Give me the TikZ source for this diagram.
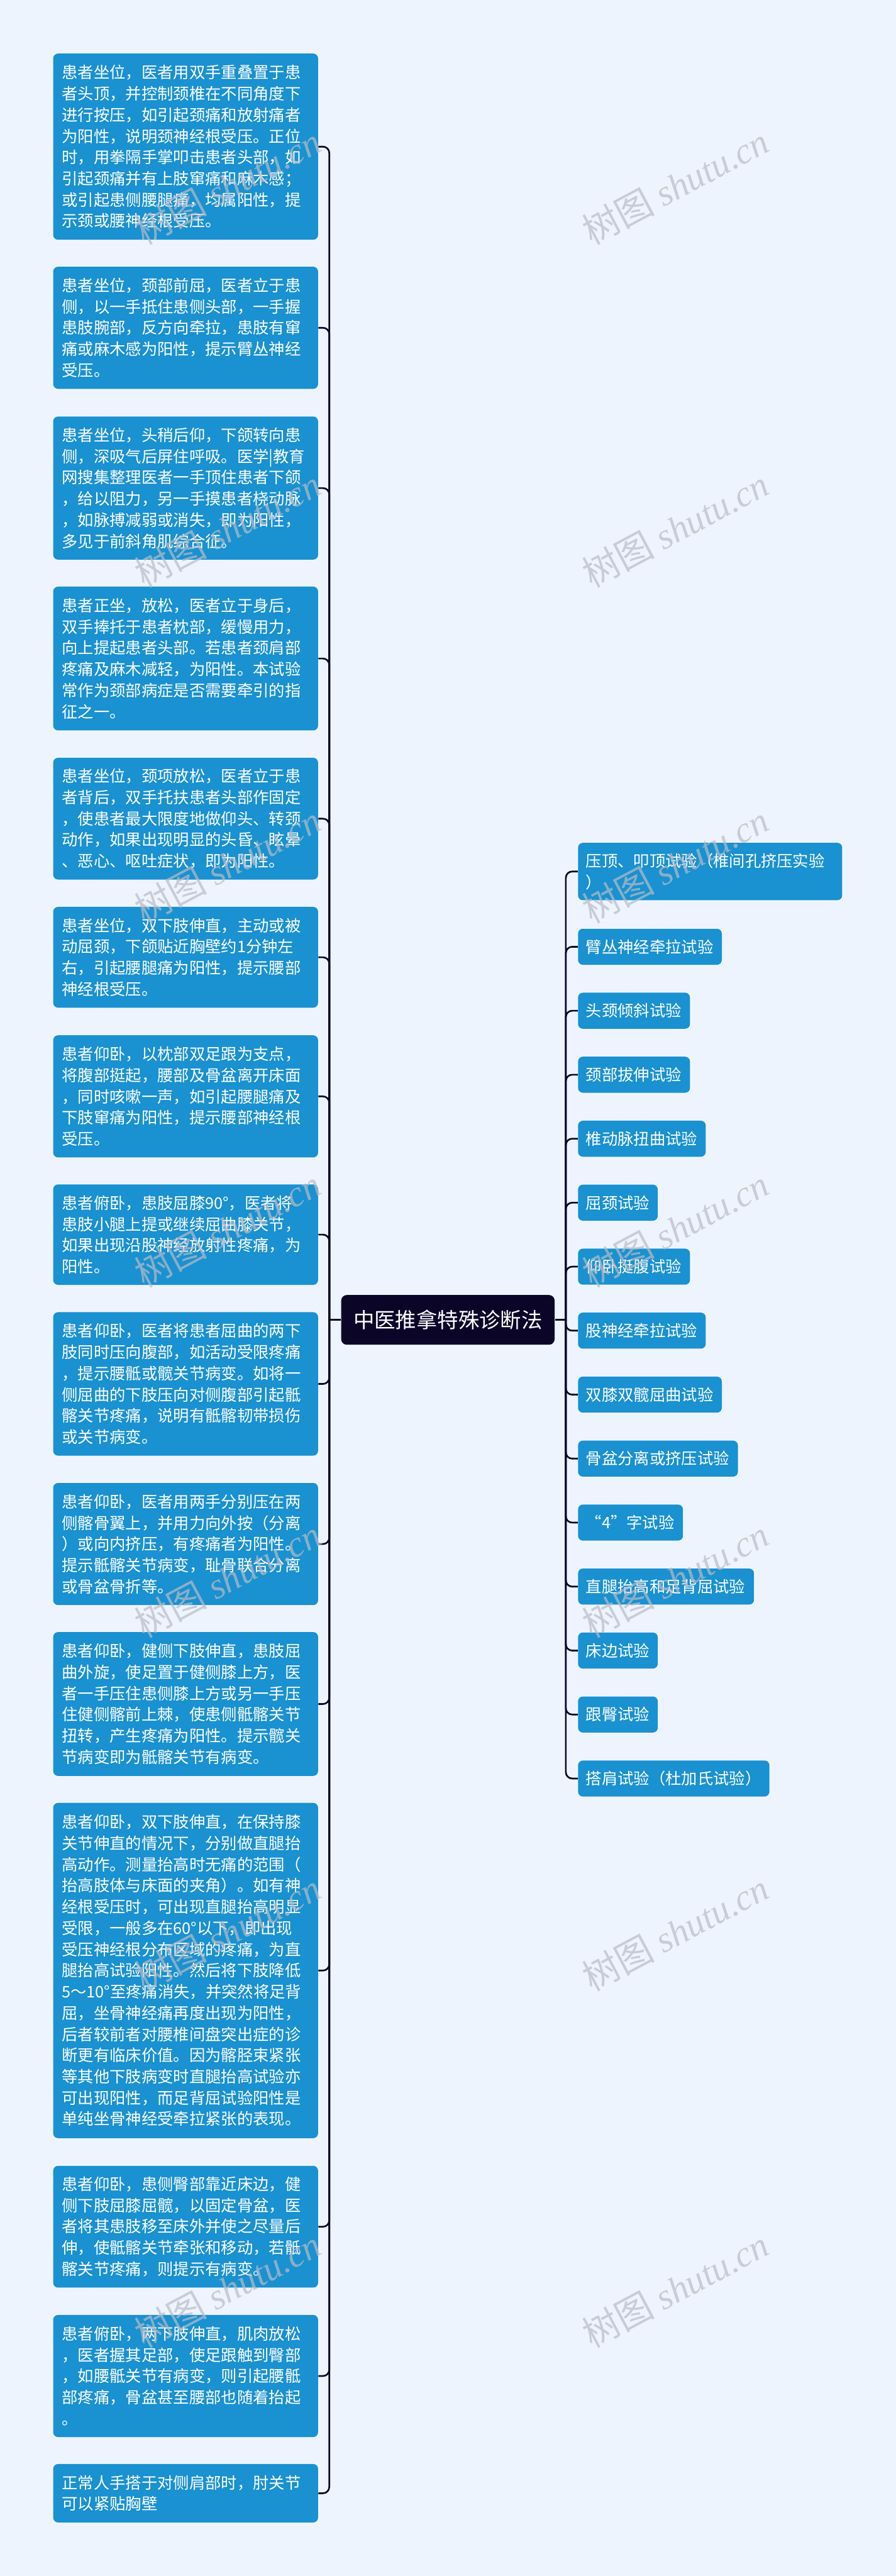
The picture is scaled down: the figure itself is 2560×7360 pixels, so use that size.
\documentclass[tikz,border=0pt]{standalone}
\usepackage{fontspec}
\setmainfont{Noto Sans CJK SC}
\newfontfamily\cjk{Noto Sans CJK SC}
\newfontfamily\wmserif{Liberation Serif}
\definecolor{bg}{RGB}{238,244,254}
\definecolor{boxblue}{RGB}{26,145,208}
\definecolor{rootc}{RGB}{11,6,40}
\definecolor{linec}{RGB}{11,6,40}
\definecolor{wmc}{RGB}{185,188,198}
\begin{document}
\begin{tikzpicture}[x=0.25pt,y=-0.25pt,
  lbox/.style={fill=boxblue, rounded corners=3.5pt, text=white,
    font=\fontsize{11.375pt}{15.15pt}\selectfont, align=left,
    text width=176.75pt, inner xsep=6.25pt, inner ysep=0pt, anchor=center},
  rbox/.style={fill=boxblue, rounded corners=3.5pt, text=white,
    font=\fontsize{11.375pt}{15.15pt}\selectfont, align=left,
    text width=#1, inner xsep=5.625pt, inner ysep=0pt,
    minimum height=25.75pt, anchor=west},
  rootbox/.style={fill=rootc, rounded corners=4pt, text=white,
    font=\fontsize{15pt}{18pt}\selectfont, minimum width=152.5pt,
    minimum height=35.5pt, inner sep=0pt},
  conn/.style={draw=linec, line width=1.2pt},
  branchline/.style={conn, rounded corners=4.5pt},
  wmark/.style={text=wmc, text opacity=0.7, rotate=28, inner sep=0pt}
]
\useasboundingbox (0,0) rectangle (2560,7360);
\fill[bg] (0,0) rectangle (2560,7360);

% root
\node[rootbox] (root) at (1280,3771) {中医推拿特殊诊断法};
\coordinate (lj) at (941,3771);
\coordinate (rj) at (1617,3771);

% left boxes
\node[lbox, minimum height=133pt] (l1) at (530.5,419) {患者坐位，医者用双手重叠置于患\\
者头顶，并控制颈椎在不同角度下\\
进行按压，如引起颈痛和放射痛者\\
为阳性，说明颈神经根受压。正位\\
时，用拳隔手掌叩击患者头部，如\\
引起颈痛并有上肢窜痛和麻木感；\\
或引起患侧腰腿痛，均属阳性，提\\
示颈或腰神经根受压。};
\node[lbox, minimum height=87.25pt] (l2) at (530.5,936.5) {患者坐位，颈部前屈，医者立于患\\
侧，以一手抵住患侧头部，一手握\\
患肢腕部，反方向牵拉，患肢有窜\\
痛或麻木感为阳性，提示臂丛神经\\
受压。};
\node[lbox, minimum height=102.25pt] (l3) at (530.5,1394.5) {患者坐位，头稍后仰，下颌转向患\\
侧，深吸气后屏住呼吸。医学|教育\\
网搜集整理医者一手顶住患者下颌\\
，给以阻力，另一手摸患者桡动脉\\
，如脉搏减弱或消失，即为阳性，\\
多见于前斜角肌综合征。};
\node[lbox, minimum height=102.75pt] (l4) at (530.5,1881.5) {患者正坐，放松，医者立于身后，\\
双手捧托于患者枕部，缓慢用力，\\
向上提起患者头部。若患者颈肩部\\
疼痛及麻木减轻，为阳性。本试验\\
常作为颈部病症是否需要牵引的指\\
征之一。};
\node[lbox, minimum height=87pt] (l5) at (530.5,2339) {患者坐位，颈项放松，医者立于患\\
者背后，双手托扶患者头部作固定\\
，使患者最大限度地做仰头、转颈\\
动作，如果出现明显的头昏、眩晕\\
、恶心、呕吐症状，即为阳性。};
\node[lbox, minimum height=72pt] (l6) at (530.5,2735) {患者坐位，双下肢伸直，主动或被\\
动屈颈，下颌贴近胸壁约1分钟左\\
右，引起腰腿痛为阳性，提示腰部\\
神经根受压。};
\node[lbox, minimum height=87.25pt] (l7) at (530.5,3132.5) {患者仰卧，以枕部双足跟为支点，\\
将腹部挺起，腰部及骨盆离开床面\\
，同时咳嗽一声，如引起腰腿痛及\\
下肢窜痛为阳性，提示腰部神经根\\
受压。};
\node[lbox, minimum height=71.75pt] (l8) at (530.5,3527.5) {患者俯卧，患肢屈膝90°，医者将\\
患肢小腿上提或继续屈曲膝关节，\\
如果出现沿股神经放射性疼痛，为\\
阳性。};
\node[lbox, minimum height=102.5pt] (l9) at (530.5,3954) {患者仰卧，医者将患者屈曲的两下\\
肢同时压向腹部，如活动受限疼痛\\
，提示腰骶或髋关节病变。如将一\\
侧屈曲的下肢压向对侧腹部引起骶\\
髂关节疼痛，说明有骶髂韧带损伤\\
或关节病变。};
\node[lbox, minimum height=87.25pt] (l10) at (530.5,4411.5) {患者仰卧，医者用两手分别压在两\\
侧髂骨翼上，并用力向外按（分离\\
）或向内挤压，有疼痛者为阳性。\\
提示骶髂关节病变，耻骨联合分离\\
或骨盆骨折等。};
\node[lbox, minimum height=102.75pt] (l11) at (530.5,4868.5) {患者仰卧，健侧下肢伸直，患肢屈\\
曲外旋，使足置于健侧膝上方，医\\
者一手压住患侧膝上方或另一手压\\
住健侧髂前上棘，使患侧骶髂关节\\
扭转，产生疼痛为阳性。提示髋关\\
节病变即为骶髂关节有病变。};
\node[lbox, minimum height=239.5pt] (l12) at (530.5,5630) {患者仰卧，双下肢伸直，在保持膝\\
关节伸直的情况下，分别做直腿抬\\
高动作。测量抬高时无痛的范围（\\
抬高肢体与床面的夹角）。如有神\\
经根受压时，可出现直腿抬高明显\\
受限，一般多在60°以下，即出现\\
受压神经根分布区域的疼痛，为直\\
腿抬高试验阳性。然后将下肢降低\\
5～10°至疼痛消失，并突然将足背\\
屈，坐骨神经痛再度出现为阳性，\\
后者较前者对腰椎间盘突出症的诊\\
断更有临床价值。因为髂胫束紧张\\
等其他下肢病变时直腿抬高试验亦\\
可出现阳性，而足背屈试验阳性是\\
单纯坐骨神经受牵拉紧张的表现。};
\node[lbox, minimum height=87pt] (l13) at (530.5,6362) {患者仰卧，患侧臀部靠近床边，健\\
侧下肢屈膝屈髋，以固定骨盆，医\\
者将其患肢移至床外并使之尽量后\\
伸，使骶髂关节牵张和移动，若骶\\
髂关节疼痛，则提示有病变。};
\node[lbox, minimum height=87.25pt] (l14) at (530.5,6788.5) {患者俯卧，两下肢伸直，肌肉放松\\
，医者握其足部，使足跟触到臀部\\
，如腰骶关节有病变，则引起腰骶\\
部疼痛，骨盆甚至腰部也随着抬起\\
。};
\node[lbox, minimum height=41.75pt] (l15) at (530.5,7123.5) {正常人手搭于对侧肩部时，肘关节\\
可以紧贴胸壁};

% right boxes
\node[rbox=177.5pt, minimum height=41pt] (r1) at (1651,2490) {压顶、叩顶试验（椎间孔挤压实验\\）};
\node[rbox=91.5pt] (r2) at (1651,2705) {臂丛神经牵拉试验};
\node[rbox=68.75pt] (r3) at (1651,2887.8) {头颈倾斜试验};
\node[rbox=68.75pt] (r4) at (1651,3070.6) {颈部拔伸试验};
\node[rbox=80pt] (r5) at (1651,3253.4) {椎动脉扭曲试验};
\node[rbox=45.75pt] (r6) at (1651,3436.2) {屈颈试验};
\node[rbox=68.75pt] (r7) at (1651,3619) {仰卧挺腹试验};
\node[rbox=80pt] (r8) at (1651,3801.8) {股神经牵拉试验};
\node[rbox=91.5pt] (r9) at (1651,3984.6) {双膝双髋屈曲试验};
\node[rbox=103pt] (r10) at (1651,4167.4) {骨盆分离或挤压试验};
\node[rbox=63.75pt] (r11) at (1651,4350.2) {“4”字试验};
\node[rbox=114.5pt] (r12) at (1651,4533) {直腿抬高和足背屈试验};
\node[rbox=45.75pt] (r13) at (1651,4715.8) {床边试验};
\node[rbox=45.75pt] (r14) at (1651,4898.6) {跟臀试验};
\node[rbox=125.5pt] (r15) at (1651,5081.4) {搭肩试验（杜加氏试验）};

% connectors
\draw[conn] (root.west) -- (lj);
\draw[conn] (root.east) -- (rj);
\foreach \i in {1,...,15} {
  \draw[branchline] (lj) |- (l\i.east);
  \draw[branchline] (rj) |- (r\i.west);
}

% watermarks
\foreach \y in {530,1510,2470,3510,4510,5520,6540} {
  \node[wmark] at (650,\y) {\fontsize{26pt}{26pt}\selectfont\cjk 树图\ \wmserif\itshape shutu.cn};
  \node[wmark] at (1930,\y) {\fontsize{26pt}{26pt}\selectfont\cjk 树图\ \wmserif\itshape shutu.cn};
}
\end{tikzpicture}
\end{document}
